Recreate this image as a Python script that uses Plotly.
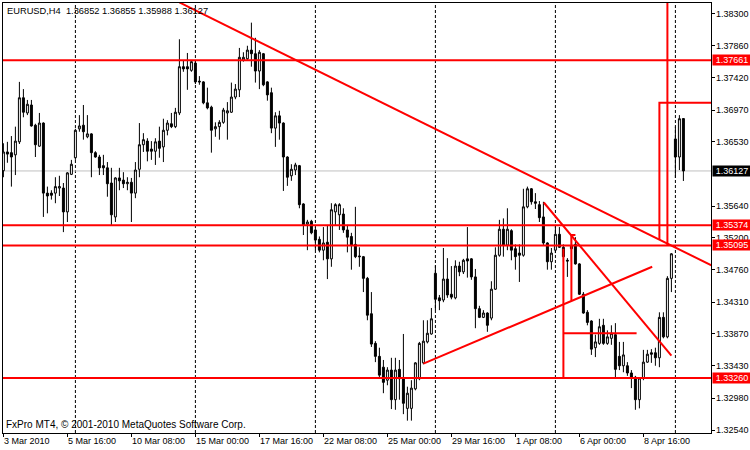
import plotly.graph_objects as go

# ---------------- data ----------------
opens = [1.3613,1.3639,1.3638,1.3635,1.3653,1.3714,1.3693,1.3704,1.3676,1.3647,
 1.3679,1.3582,1.3582,1.3582,1.3589,1.3589,1.3556,1.3608,1.3631,1.3671,
 1.3676,1.3660,1.3664,1.3638,1.3632,1.3620,1.3617,1.3596,1.3549,1.3603,
 1.3600,1.3595,1.3597,1.3582,1.3615,1.3649,1.3654,1.3643,1.3640,1.3654,
 1.3646,1.3669,1.3678,1.3674,1.3693,1.3757,1.3757,1.3752,1.3762,1.3737,
 1.3736,1.3707,1.3701,1.3671,1.3674,1.3680,1.3693,1.3694,1.3715,1.3725,
 1.3766,1.3768,1.3780,1.3775,1.3751,1.3775,1.3736,1.3721,1.3672,1.3689,
 1.3679,1.3632,1.3606,1.3614,1.3620,1.3567,1.3539,1.3543,1.3531,1.3518,
 1.3503,1.3514,1.3491,1.3556,1.3552,1.3553,1.3531,1.3522,1.3511,1.3495,
 1.3494,1.3464,1.3415,1.3374,1.3356,1.3341,1.3323,1.3337,1.3296,1.3338,
 1.3326,1.3284,1.3284,1.3311,1.3325,1.3347,1.3376,1.3387,1.3471,1.3437,
 1.3434,1.3463,1.3442,1.3437,1.3481,1.3473,1.3491,1.3491,1.3466,1.3422,
 1.3410,1.3416,1.3409,1.3449,1.3496,1.3532,1.3510,1.3530,1.3505,1.3499,
 1.3496,1.3563,1.3588,1.3570,1.3566,1.3549,1.3513,1.3487,1.3503,1.3525,
 1.3507,1.3489,1.3509,1.3511,1.3484,1.3442,1.3417,1.3405,1.3368,1.3374,
 1.3399,1.3374,1.3381,1.3386,1.3356,1.3343,1.3343,1.3333,1.3327,1.3296,
 1.3326,1.3348,1.3361,1.3361,1.3354,1.3410,1.3383,1.3464,1.3657,1.3632,
 1.36852]
highs = [1.3651,1.3653,1.3661,1.3674,1.3736,1.3726,1.3711,1.3711,1.3678,1.3693,
 1.3680,1.3591,1.3586,1.3604,1.3606,1.3596,1.3611,1.3628,1.3671,1.3690,
 1.3704,1.3690,1.3665,1.3640,1.3635,1.3635,1.3625,1.3617,1.3604,1.3617,
 1.3611,1.3604,1.3603,1.3625,1.3679,1.3665,1.3658,1.3654,1.3658,1.3674,
 1.3685,1.3683,1.3693,1.3700,1.3795,1.3766,1.3776,1.3766,1.3766,1.3744,
 1.3737,1.3728,1.3703,1.3680,1.3683,1.3700,1.3708,1.3735,1.3733,1.3783,
 1.3777,1.3786,1.3818,1.3797,1.3780,1.3776,1.3737,1.3728,1.3694,1.3696,
 1.3680,1.3633,1.3622,1.3624,1.3621,1.3568,1.3545,1.3545,1.3535,1.3522,
 1.3535,1.3538,1.3568,1.3568,1.3568,1.3561,1.3538,1.3527,1.3563,1.3507,
 1.3495,1.3466,1.3445,1.3377,1.3368,1.3351,1.3341,1.3354,1.3354,1.3351,
 1.3387,1.3314,1.3323,1.3348,1.3376,1.3406,1.3406,1.3423,1.3482,1.3441,
 1.3506,1.3492,1.3481,1.3489,1.3487,1.3491,1.3535,1.3492,1.3477,1.3426,
 1.3420,1.3417,1.3460,1.3507,1.3545,1.3547,1.3561,1.3532,1.3511,1.3511,
 1.3588,1.3591,1.3589,1.3582,1.3571,1.3570,1.3514,1.3506,1.3536,1.3535,
 1.3511,1.3492,1.3525,1.3521,1.3485,1.3445,1.3420,1.3406,1.3386,1.3408,
 1.3408,1.3392,1.3399,1.3402,1.3376,1.3376,1.3348,1.3337,1.3329,1.3327,
 1.3365,1.3365,1.3366,1.3368,1.3417,1.3417,1.3467,1.3499,1.3674,1.3690,
 1.36855]
lows = [1.3604,1.3624,1.3591,1.3607,1.3650,1.3687,1.3690,1.3674,1.3632,1.3646,
 1.3549,1.3554,1.3573,1.3568,1.3578,1.3528,1.3542,1.3607,1.3628,1.3667,
 1.3656,1.3658,1.3604,1.3631,1.3607,1.3607,1.3577,1.3538,1.3542,1.3586,
 1.3589,1.3586,1.3542,1.3575,1.3604,1.3639,1.3626,1.3628,1.3621,1.3631,
 1.3625,1.3662,1.3672,1.3672,1.3690,1.3750,1.3725,1.3750,1.3733,1.3732,
 1.3705,1.3698,1.3638,1.3660,1.3656,1.3678,1.3656,1.3693,1.3712,1.3715,
 1.3764,1.3766,1.3757,1.3735,1.3726,1.3730,1.3710,1.3665,1.3646,1.3656,
 1.3585,1.3592,1.3599,1.3607,1.3561,1.3524,1.3503,1.3525,1.3503,1.3500,
 1.3489,1.3463,1.3480,1.3538,1.3531,1.3527,1.3500,1.3476,1.3492,1.3480,
 1.3445,1.3406,1.3369,1.3348,1.3327,1.3305,1.3316,1.3283,1.3282,1.3296,
 1.3276,1.3267,1.3267,1.3309,1.3323,1.3345,1.3374,1.3386,1.3420,1.3420,
 1.3431,1.3437,1.3435,1.3435,1.3467,1.3470,1.3465,1.3462,1.3395,1.3409,
 1.3409,1.3390,1.3406,1.3448,1.3494,1.3494,1.3503,1.3489,1.3476,1.3459,
 1.3494,1.3561,1.3566,1.3560,1.3542,1.3510,1.3476,1.3476,1.3499,1.3506,
 1.3487,1.3466,1.3487,1.3483,1.3441,1.3415,1.3399,1.3358,1.3355,1.3372,
 1.3372,1.3372,1.3372,1.3327,1.3337,1.3334,1.3329,1.3312,1.3282,1.3284,
 1.3323,1.3347,1.3347,1.3343,1.3341,1.3381,1.3381,1.3445,1.3603,1.3614,
 1.35988]
closes = [1.3639,1.3636,1.3632,1.3654,1.3714,1.3694,1.3705,1.3675,1.3649,1.3679,
 1.3582,1.3578,1.3579,1.3591,1.3591,1.3556,1.3610,1.3622,1.3669,1.3675,
 1.3667,1.3664,1.3638,1.3632,1.3617,1.3617,1.3595,1.3552,1.3603,1.3599,
 1.3595,1.3597,1.3582,1.3614,1.3649,1.3656,1.3640,1.3640,1.3653,1.3644,
 1.3669,1.3679,1.3674,1.3694,1.3757,1.3754,1.3754,1.3764,1.3736,1.3736,
 1.3707,1.3700,1.3669,1.3674,1.3680,1.3697,1.3696,1.3715,1.3726,1.3770,
 1.3770,1.3780,1.3775,1.3751,1.3777,1.3732,1.3718,1.3672,1.3689,1.3679,
 1.3632,1.3604,1.3615,1.3621,1.3566,1.3538,1.3542,1.3527,1.3517,1.3503,
 1.3513,1.3491,1.3559,1.3566,1.3566,1.3531,1.3521,1.3510,1.3494,1.3494,
 1.3464,1.3413,1.3373,1.3356,1.3330,1.3320,1.3337,1.3296,1.3337,1.3325,
 1.3291,1.3305,1.3312,1.3347,1.3374,1.3377,1.3388,1.3408,1.3435,1.3433,
 1.3463,1.3441,1.3438,1.3481,1.3473,1.3489,1.3488,1.3466,1.3422,1.3410,
 1.3416,1.3399,1.3449,1.3496,1.3532,1.3510,1.3532,1.3503,1.3494,1.3496,
 1.3563,1.3588,1.3570,1.3568,1.3548,1.3513,1.3487,1.3499,1.3525,1.3507,
 1.3494,1.3488,1.3505,1.3484,1.3442,1.3416,1.3403,1.3366,1.3376,1.3397,
 1.3374,1.3383,1.3388,1.3338,1.3343,1.3358,1.3333,1.3327,1.3296,1.3326,
 1.3348,1.3359,1.3359,1.3354,1.3410,1.3383,1.3464,1.3498,1.3632,1.3685,
 1.36127]
bars = list(range(len(opens)))

time_tick_bars = [0, 16, 32, 48, 64, 80, 96, 112, 128, 144, 160]
time_tick_labels = ["3 Mar 2010", "5 Mar 16:00", "10 Mar 08:00", "15 Mar 00:00",
                    "17 Mar 16:00", "22 Mar 08:00", "25 Mar 00:00", "29 Mar 16:00",
                    "1 Apr 08:00", "6 Apr 00:00", "8 Apr 16:00"]
separator_bars = [18, 48, 78, 108, 138, 168]

price_ticks = [1.38300, 1.37860, 1.37420, 1.36970, 1.36530, 1.35640, 1.35200,
               1.34760, 1.34310, 1.33870, 1.33430, 1.32980, 1.32540]

level_prices = [1.37661, 1.35374, 1.35095, 1.33260]
bid_price = 1.36127
header_text = "EURUSD,H4\u00a0\u00a01.36852 1.36855 1.35988 1.36127"
footer_text = "FxPro MT4, \u00a9 2001-2010 MetaQuotes Software Corp."

# red drawn objects: (bar, price) point sequences
trend_down_long = [(44.0, 1.3846), (177.0, 1.3482)]
trend_up = [(105.0, 1.3346), (162.2, 1.3480)]
trend_down_steep = [(135.1, 1.3569), (167.0, 1.3357)]
vline_a = [(140.0, 1.3505), (140.0, 1.3326)]
hline_b = [(140.0, 1.3388), (158.3, 1.3388)]
vline_c = [(142.0, 1.3433), (142.0, 1.3524), (143.0, 1.3524)]
bracket_d = [(164.0, 1.3517), (164.0, 1.3707), (177.5, 1.3707)]
vline_e = [(166.0, 1.3850), (166.0, 1.35095)]
red_objects = [trend_down_long, trend_up, trend_down_steep, vline_a, hline_b,
               vline_c, bracket_d, vline_e]

# ---------------- figure ----------------
FONT = "Liberation Sans, Arial, sans-serif"
RED = "#FF0000"

fig = go.Figure()
fig.add_trace(go.Candlestick(
    x=bars, open=opens, high=highs, low=lows, close=closes,
    increasing=dict(line=dict(color="black", width=1), fillcolor="white"),
    decreasing=dict(line=dict(color="black", width=1), fillcolor="black"),
    whiskerwidth=0, hoverinfo="skip", showlegend=False))

for obj in red_objects:
    fig.add_trace(go.Scatter(x=[p[0] for p in obj], y=[p[1] for p in obj],
                             mode="lines", line=dict(color=RED, width=2),
                             hoverinfo="skip", showlegend=False))

shapes = []
for b in separator_bars:
    shapes.append(dict(type="line", xref="x", yref="paper", x0=b, x1=b, y0=0, y1=1,
                       line=dict(color="black", width=1, dash="3px,2px"), layer="below"))
shapes.append(dict(type="line", xref="paper", yref="y", x0=0, x1=1, y0=bid_price, y1=bid_price,
                   line=dict(color="#C0C0C0", width=1), layer="below"))
for lp in level_prices:
    shapes.append(dict(type="line", xref="paper", yref="y", x0=0, x1=1, y0=lp, y1=lp,
                       line=dict(color=RED, width=2), layer="above"))

annotations = []
# time axis labels (left-aligned at their tick, MT4 style)
for b, lab in zip(time_tick_bars, time_tick_labels):
    annotations.append(dict(xref="x", yref="paper", x=b, y=0, xanchor="left", yanchor="top",
                            yshift=-2, text=lab, showarrow=False, borderpad=0,
                            font=dict(family=FONT, size=9, color="black")))
# price axis labels
for v in price_ticks:
    annotations.append(dict(xref="paper", yref="y", x=1, y=v, xanchor="left", yanchor="middle",
                            xshift=4, text=f"{v:.5f}", showarrow=False, borderpad=0,
                            font=dict(family=FONT, size=9, color="black")))
for lp in level_prices:
    annotations.append(dict(xref="paper", yref="y", x=1, y=lp, xanchor="left", yanchor="middle",
                            xshift=1, text=f"{lp:.5f}", showarrow=False, bgcolor=RED,
                            font=dict(family=FONT, size=9, color="white"),
                            width=38, height=10, align="center", borderpad=0))
annotations.append(dict(xref="paper", yref="y", x=1, y=bid_price, xanchor="left", yanchor="middle",
                        xshift=1, text=f"{bid_price:.5f}", showarrow=False, bgcolor="black",
                        font=dict(family=FONT, size=9, color="white"),
                        width=38, height=10, align="center", borderpad=0))
annotations.append(dict(xref="paper", yref="paper", x=0, y=1, xanchor="left", yanchor="top",
                        xshift=2, yshift=-1, text=header_text, showarrow=False,
                        font=dict(family=FONT, size=9.3, color="black")))
annotations.append(dict(xref="paper", yref="paper", x=0, y=0, xanchor="left", yanchor="bottom",
                        xshift=1, yshift=1, text=footer_text, showarrow=False,
                        font=dict(family=FONT, size=10, color="black")))

fig.update_layout(
    width=750, height=450,
    margin=dict(l=3, r=39, t=3, b=17, autoexpand=False),
    paper_bgcolor="white", plot_bgcolor="white",
    font=dict(family=FONT, size=9, color="black"),
    shapes=shapes, annotations=annotations,
    xaxis=dict(range=[-0.1, 176.9], rangeslider=dict(visible=False),
               tickmode="array", tickvals=time_tick_bars, showticklabels=False,
               ticks="outside", ticklen=3, tickcolor="black", automargin=False,
               showgrid=False, zeroline=False, showline=True, linecolor="black",
               linewidth=1, mirror=True),
    yaxis=dict(range=[1.32499, 1.38452], side="right",
               tickmode="array", tickvals=price_ticks, showticklabels=False,
               ticks="outside", ticklen=3, tickcolor="black", automargin=False,
               showgrid=False, zeroline=False, showline=True, linecolor="black",
               linewidth=1, mirror=True),
)

fig.write_html("out.html", config={"displayModeBar": False},
               post_script="document.body.style.margin='0';document.body.style.padding='0';")
